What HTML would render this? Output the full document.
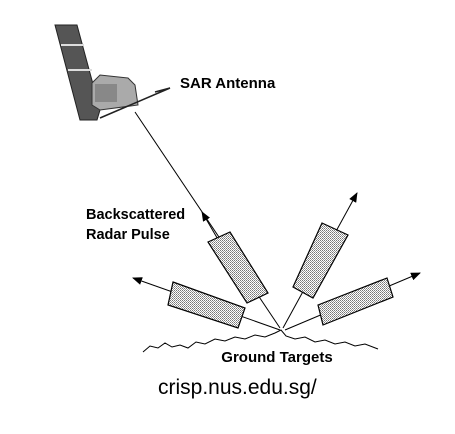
<!DOCTYPE html>
<html><head><meta charset="utf-8"><style>
html,body{margin:0;padding:0;background:#fff}
svg{display:block}
text{font-family:"Liberation Sans",Arial,sans-serif}
</style></head><body>
<svg width="455" height="434" viewBox="0 0 455 434" xmlns="http://www.w3.org/2000/svg">
<defs>
<pattern id="dots" width="2" height="2" patternUnits="userSpaceOnUse"><rect width="2" height="2" fill="#fff"/><rect width="1" height="1" fill="#777"/><rect x="1" y="1" width="1" height="1" fill="#999"/></pattern>
<marker id="ah" markerWidth="10" markerHeight="8" refX="9" refY="4" orient="auto" markerUnits="userSpaceOnUse"><path d="M0,0 L10,4 L0,8 Z" fill="#000"/></marker>
</defs>
<g>
<polygon points="55,25 77,25 100,110 97,120 80,120" fill="#555" stroke="#222" stroke-width="1"/>
<line x1="61" y1="45" x2="84" y2="45" stroke="#ddd" stroke-width="2"/>
<line x1="68" y1="70" x2="92" y2="70" stroke="#ddd" stroke-width="2"/>
<polygon points="92,83 100,75 128,78 135,85 138,105 100,110 92,105" fill="#aaa" stroke="#333"/>
<rect x="95" y="84" width="22" height="18" fill="#888"/>
<polyline points="100,118 170,88 155,92" fill="none" stroke="#222" stroke-width="1.5"/>
</g>
<line x1="135" y1="112" x2="280" y2="328" stroke="#000" stroke-width="1"/>
<line x1="230" y1="260" x2="202" y2="212" stroke="#000" marker-end="url(#ah)"/>
<line x1="280" y1="330" x2="133" y2="278" stroke="#000" marker-end="url(#ah)"/>
<line x1="283" y1="328" x2="357" y2="193" stroke="#000" marker-end="url(#ah)"/>
<line x1="285" y1="330" x2="420" y2="273" stroke="#000" marker-end="url(#ah)"/>
<g stroke="#000" stroke-width="1.2" fill="url(#dots)">
<polygon points="208,242 230,232 268,293 247,303"/>
<polygon points="173,282 245,308 238,328 168,305"/>
<polygon points="322,223 348,235 313,298 293,287"/>
<polygon points="318,305 387,278 393,297 323,325"/>
</g>
<polyline points="143,352 150,346 158,348 165,343 172,347 180,345 188,348 196,342 205,344 215,339 225,341 235,337 245,339 255,335 265,337 275,333 281,330 286,336 295,339 305,337 315,342 325,340 335,344 345,342 355,346 365,344 378,349" fill="none" stroke="#000" stroke-width="1"/>
<text x="180" y="88" font-size="15" font-weight="bold">SAR Antenna</text>
<text x="86" y="219" font-size="14.5" font-weight="bold">Backscattered</text>
<text x="86" y="239" font-size="14.5" font-weight="bold">Radar Pulse</text>
<text x="277" y="362" font-size="15" font-weight="bold" text-anchor="middle">Ground Targets</text>
<text x="158" y="394" font-size="21">crisp.nus.edu.sg/</text>
</svg>
</body></html>
